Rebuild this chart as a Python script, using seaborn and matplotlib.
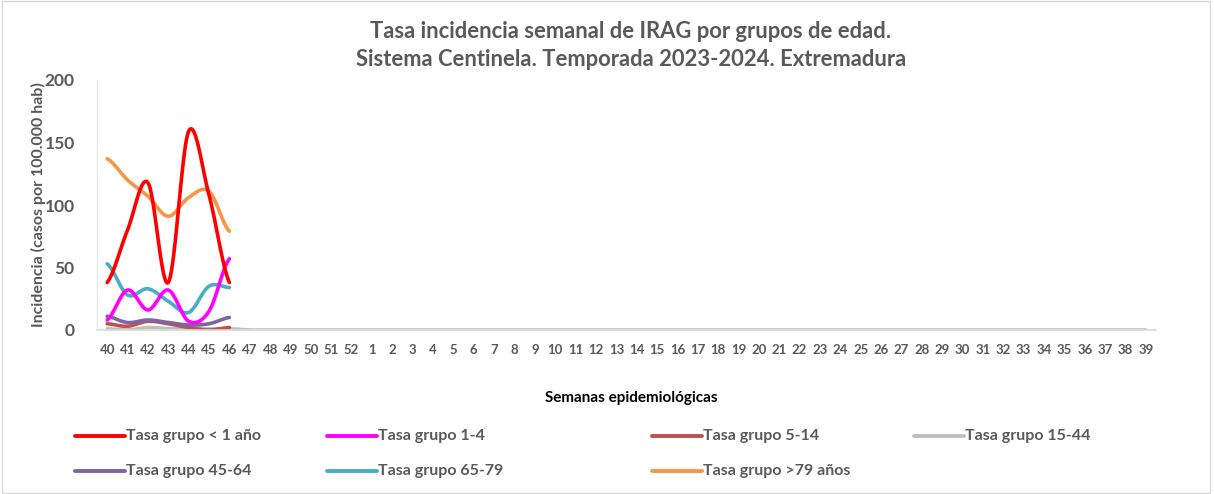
import numpy as np
import pandas as pd
import matplotlib
matplotlib.use("Agg")
import matplotlib.pyplot as plt
import seaborn as sns
from matplotlib.lines import Line2D
from matplotlib.patches import Rectangle

# semanas epidemiologicas 40..52, 1..39
semanas = [str(s) for s in list(range(40, 53)) + list(range(1, 40))]

grupos = ["Tasa grupo < 1 año", "Tasa grupo 1-4", "Tasa grupo 5-14", "Tasa grupo 15-44",
          "Tasa grupo 45-64", "Tasa grupo 65-79", "Tasa grupo >79 años"]
colores = ["#FF0000", "#FF00FF", "#C0504D", "#BFBFBF", "#8064A2", "#4BACC6", "#F79646"]

menor_1 = [38, 80, 118, 38, 159, 108, 38]
g_1_4 = [8, 32, 16, 32, 7, 15, 57]
g_5_14 = [5, 3, 7, 5, 2, 0, 2]
g_15_44 = [1, 0, 2, 1, 1, 1, 1] + [0] * 45
g_45_64 = [11, 6, 8, 6, 4, 5, 10]
g_65_79 = [53, 28, 33, 23, 14, 35, 34]
mayor_79 = [137, 120, 107, 91, 106, 111, 79]

series = [menor_1, g_1_4, g_5_14, g_15_44, g_45_64, g_65_79, mayor_79]


def suavizar(y, n=20):
    # curva tipo Excel (Catmull-Rom) solo para dibujar
    y = np.asarray(y, dtype=float)
    p = np.concatenate([[y[0]], y, [y[-1]]])
    xs, ys = [], []
    for i in range(len(y) - 1):
        p0, p1, p2, p3 = p[i], p[i + 1], p[i + 2], p[i + 3]
        t = np.linspace(0, 1, n, endpoint=False)
        yy = 0.5 * ((2 * p1) + (-p0 + p2) * t + (2 * p0 - 5 * p1 + 4 * p2 - p3) * t ** 2
                    + (-p0 + 3 * p1 - 3 * p2 + p3) * t ** 3)
        xs.extend(i + t)
        ys.extend(yy)
    xs.append(len(y) - 1)
    ys.append(y[-1])
    return np.array(xs), np.array(ys)


sns.set_style("white")
plt.rcParams["font.family"] = ["Lato", "DejaVu Sans"]
gris = "#595959"

fig = plt.figure(figsize=(12.14, 4.94), dpi=100)
ax = fig.add_axes([97 / 1214, 1 - 330 / 494, (1156 - 97) / 1214, 250 / 494])

orden = [3, 2, 4, 5, 1, 6, 0]
for i in orden:
    xs, ys = suavizar(series[i])
    df = pd.DataFrame({"x": xs, "y": ys})
    sns.lineplot(data=df, x="x", y="y", color=colores[i], linewidth=2.6, ax=ax)

ax.set_xlim(-0.5, len(semanas) - 0.5)
ax.set_ylim(0, 200)
ax.set_xticks(range(len(semanas)))
ax.set_xticklabels(semanas, fontsize=9.5, fontweight="bold", color=gris)
ax.set_yticks([0, 50, 100, 150, 200])
ax.set_yticklabels(["0", "50", "100", "150", "200"], fontsize=12.5, fontweight="bold", color=gris)
ax.tick_params(axis="x", length=0, pad=10)
ax.tick_params(axis="y", length=0, pad=16)

for s in ["top", "right"]:
    ax.spines[s].set_visible(False)
ax.spines["left"].set_color("#E6E6E6")
ax.spines["bottom"].set_color("#D9D9D9")
ax.spines["bottom"].set_linewidth(1.2)

ax.set_xlabel("")
ax.set_ylabel("Incidencia (casos por 100.000 hab)", fontsize=11.5, fontweight="bold", color=gris)
ax.yaxis.set_label_coords(-0.048, 0.5)

fig.text(631 / 1214, 1 - 398 / 494, "Semanas epidemiológicas", ha="center", va="center",
         fontsize=11, fontweight="bold", color="#000000")

fig.text(631 / 1214, 1 - 32 / 494, "Tasa incidencia semanal de IRAG por grupos de edad.",
         ha="center", va="center", fontsize=15.8, fontweight="bold", color=gris)
fig.text(631 / 1214, 1 - 60 / 494, "Sistema Centinela. Temporada 2023-2024. Extremadura",
         ha="center", va="center", fontsize=15.8, fontweight="bold", color=gris)

fila1 = [0, 1, 2, 3]
fila2 = [4, 5, 6]
xcols = [75, 327, 652, 914]
for fila, ypix in [(fila1, 436), (fila2, 471)]:
    for k, i in enumerate(fila):
        x0 = xcols[k]
        fig.add_artist(Line2D([x0 / 1214, (x0 + 50) / 1214], [1 - ypix / 494] * 2,
                              color=colores[i], linewidth=2.8))
        fig.text((x0 + 51) / 1214, 1 - ypix / 494, grupos[i], ha="left", va="center",
                 fontsize=11.5, fontweight="bold", color=gris)

fig.add_artist(Rectangle((0.002, 0.003), 0.995, 0.994, transform=fig.transFigure,
                         fill=False, edgecolor="#D9D9D9", linewidth=1))

fig.savefig("out.png", dpi=100)
